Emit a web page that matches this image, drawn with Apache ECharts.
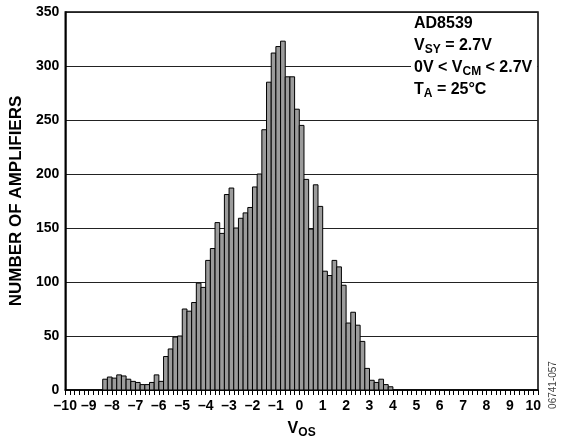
<!DOCTYPE html>
<html>
<head>
<meta charset="utf-8">
<script src="https://cdn.jsdelivr.net/npm/echarts@6/dist/echarts.min.js"></script>
<style>
html,body{margin:0;padding:0;background:#fff;}
#chart{width:563px;height:444px;}
</style>
</head>
<body>
<div id="chart"></div>
<script>
// Bin centres (V), 0.2 V wide bins
const binCenters = [-8.3,-8.1,-7.9,-7.7,-7.5,-7.3,-7.1,-6.9,-6.7,-6.5,-6.3,-6.1,-5.9,-5.7,-5.5,-5.3,-5.1,-4.9,-4.7,-4.5,-4.3,-4.1,-3.9,-3.7,-3.5,-3.3,-3.1,-2.9,-2.7,-2.5,-2.3,-2.1,-1.9,-1.7,-1.5,-1.3,-1.1,-0.9,-0.7,-0.5,-0.3,-0.1,0.1,0.3,0.5,0.7,0.9,1.1,1.3,1.5,1.7,1.9,2.1,2.3,2.5,2.7,2.9,3.1,3.3,3.5,3.7,3.9];
// Number of amplifiers per bin
const counts = [10,12,11,14,13,10,8,7,5,5,7,14,8,31,38,49,50,75,73,81,99,95,120,131,155,145,181,187,150,159,164,169,188,200,241,285,312,318,323,290,290,260,245,195,149,190,170,110,106,120,114,97,62,72,60,45,20,9,7,10,5,3];
const binWidth = 0.2;
const xTickLabels = [-10,-9,-8,-7,-6,-5,-4,-3,-2,-1,0,1,2,3,4,5,6,7,8,9,10];
const yTickLabels = [0,50,100,150,200,250,300,350];

const data = binCenters.map((x, i) => [x, counts[i]]);
const FONT = 'Liberation Sans, Arial, sans-serif';

const chart = echarts.init(document.getElementById('chart'));
chart.setOption({
  animation: false,
  backgroundColor: '#fff',
  grid: { left: 63, right: 25, top: 12, bottom: 49, show: true, borderColor: '#000', borderWidth: 1.5 },
  xAxis: {
    type: 'value',
    min: xTickLabels[0],
    max: 10.2,
    interval: 0.2,
    name: '{m|V}{s|OS}',
    nameLocation: 'middle',
    nameGap: 29,
    nameTextStyle: {
      rich: {
        m: { fontFamily: FONT, fontWeight: 'bold', fontSize: 16, color: '#000' },
        s: { fontFamily: FONT, fontWeight: 'bold', fontSize: 12, color: '#000', padding: [8, 0, 0, 0] }
      }
    },
    axisLine: { show: true, onZero: false, lineStyle: { color: '#000', width: 1.5 } },
    axisTick: { show: true, length: 5, lineStyle: { color: '#000', width: 1 } },
    splitLine: { show: false },
    axisLabel: {
      interval: 0,
      margin: 9,
      fontFamily: FONT, fontWeight: 'bold', fontSize: 14, color: '#000',
      formatter: function (v) {
        const r = Math.round(v);
        if (Math.abs(v - r) > 1e-6 || xTickLabels.indexOf(r) < 0) return '';
        return String(r).replace('-', '\u2013');
      }
    }
  },
  yAxis: {
    type: 'value',
    min: yTickLabels[0],
    max: yTickLabels[yTickLabels.length - 1],
    interval: 50,
    name: 'NUMBER OF AMPLIFIERS',
    nameLocation: 'middle',
    nameGap: 40,
    nameTextStyle: { fontFamily: FONT, fontWeight: 'bold', fontSize: 17, color: '#000' },
    axisLine: { show: true, onZero: false, lineStyle: { color: '#000', width: 1.5 } },
    axisTick: { show: false },
    splitLine: { show: true, lineStyle: { color: '#222', width: 1 } },
    axisLabel: { margin: 6, fontFamily: FONT, fontWeight: 'bold', fontSize: 14, color: '#000' }
  },
  series: [{
    type: 'custom',
    data: data,
    renderItem: function (params, api) {
      const x = api.value(0), y = api.value(1);
      const p0 = api.coord([x - binWidth / 2, y]);
      const p1 = api.coord([x + binWidth / 2, 0]);
      return {
        type: 'rect',
        shape: { x: p0[0], y: p0[1], width: p1[0] - p0[0], height: p1[1] - p0[1] },
        style: { fill: '#9b9b9b', stroke: '#000', lineWidth: 1 }
      };
    },
    encode: { x: 0, y: 1 },
    z: 3
  }],
  graphic: [
    { type: 'rect', shape: { x: 411, y: 13, width: 126, height: 90 }, style: { fill: '#fff' }, z: 5 },
    {
      type: 'text', left: 414, top: 16, z: 6,
      style: {
        text: '{b|AD8539}\n{b|V}{s|SY}{b| = 2.7V}\n{b|0V < V}{s|CM}{b| < 2.7V}\n{b|T}{s|A}{b| = 25°C}',
        rich: {
          b: { fontFamily: FONT, fontWeight: 'bold', fontSize: 16, color: '#000', lineHeight: 22 },
          s: { fontFamily: FONT, fontWeight: 'bold', fontSize: 12, color: '#000', lineHeight: 22, padding: [8, 0, 0, 0] }
        }
      }
    },
    {
      type: 'text', x: 553, y: 385, rotation: Math.PI / 2, z: 6,
      style: { text: '06741-057', fontFamily: FONT, fontSize: 10, fill: '#444', align: 'center', verticalAlign: 'middle' }
    }
  ]
});
</script>
</body>
</html>
